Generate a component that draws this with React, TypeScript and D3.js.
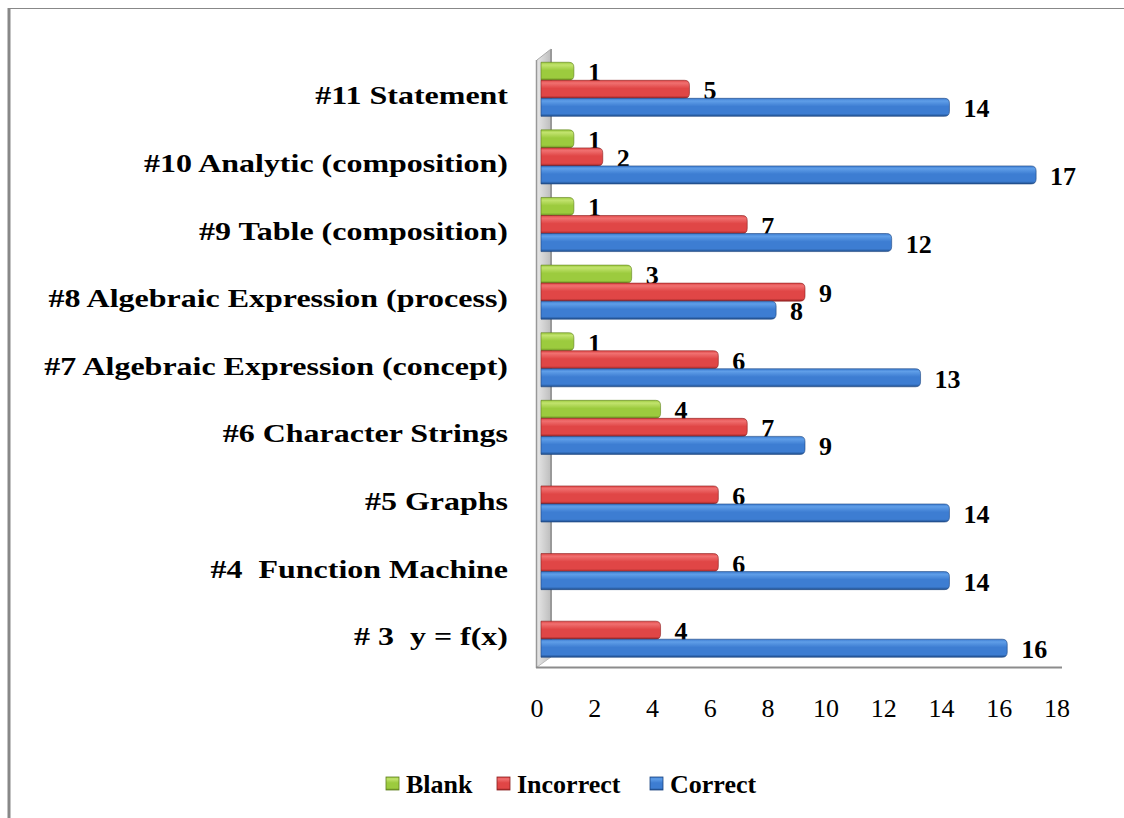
import React from "react";
import * as d3 from "d3";

const categories = [
  "#11 Statement",
  "#10 Analytic (composition)",
  "#9 Table (composition)",
  "#8 Algebraic Expression (process)",
  "#7 Algebraic Expression (concept)",
  "#6 Character Strings",
  "#5 Graphs",
  "#4  Function Machine",
  "# 3  y = f(x)",
];
const blank = [1, 1, 1, 3, 1, 4, 0, 0, 0];
const incorrect = [5, 2, 7, 9, 6, 7, 6, 6, 4];
const correct = [14, 17, 12, 8, 13, 9, 14, 14, 16];
const ticks = [0, 2, 4, 6, 8, 10, 12, 14, 16, 18];
const seriesNames = ["Blank", "Incorrect", "Correct"];

const W = 1124;
const H = 818;
const FONT = "'Liberation Serif', 'Times New Roman', serif";

const colors: Record<string, { top: string; mid: string; bot: string; edge: string }> = {
  Blank: { top: "#c2e36e", mid: "#9ccb3e", bot: "#6a8f22", edge: "#5f7f1e" },
  Incorrect: { top: "#f07070", mid: "#e04646", bot: "#9c2424", edge: "#8a2020" },
  Correct: { top: "#5f9ee8", mid: "#3d7dd2", bot: "#1f4e8c", edge: "#1c4580" },
};

export default function App() {
  const xBack = d3.scaleLinear().domain([0, 18]).range([537, 1057]);
  const frontOffset = 8;
  const xf = (v: number) => xBack(v) + frontOffset;
  const barStart = 541;

  const y = d3.scaleBand<string>().domain(categories).range([55.5, 664]).paddingInner(0.2).paddingOuter(0.1);
  const inner = d3.scaleBand<string>().domain(seriesNames).range([0, y.bandwidth()]);

  const seriesData: Record<string, number[]> = {
    Blank: blank,
    Incorrect: incorrect,
    Correct: correct,
  };

  const barPath = (x0: number, x1: number, yt: number, h: number) => {
    const r = Math.min(5, (x1 - x0) / 2);
    return `M${x0},${yt} H${x1 - r} Q${x1},${yt} ${x1},${yt + r} V${yt + h - r} Q${x1},${yt + h} ${x1 - r},${yt + h} H${x0} Z`;
  };

  return (
    <svg width={W} height={H} style={{ position: "absolute", left: 0, top: 0, background: "#fff" }} fontFamily={FONT}>
      <defs>
        {seriesNames.map((s) => (
          <linearGradient key={s} id={`g-${s}`} x1="0" y1="0" x2="0" y2="1">
            <stop offset="0" stopColor={colors[s].mid} />
            <stop offset="0.15" stopColor={colors[s].top} />
            <stop offset="0.45" stopColor={colors[s].mid} />
            <stop offset="0.85" stopColor={colors[s].mid} />
            <stop offset="1" stopColor={colors[s].bot} />
          </linearGradient>
        ))}
        <linearGradient id="wall" x1="0" y1="0" x2="1" y2="0">
          <stop offset="0" stopColor="#e6e6e6" />
          <stop offset="1" stopColor="#bdbdbd" />
        </linearGradient>
      </defs>

      {/* outer frame */}
      <line x1={9} y1={8} x2={9} y2={H} stroke="#888" strokeWidth={3} />
      <line x1={8} y1={8.5} x2={W} y2={8.5} stroke="#888" strokeWidth={1} />

      {/* 3D wall */}
      <polygon points="537,60 551,49 551,657 537,667" fill="url(#wall)" />
      <line x1={551} y1={49} x2={551} y2={657} stroke="#999" strokeWidth={2} />
      <line x1={536.5} y1={60} x2={536.5} y2={668} stroke="#999" strokeWidth={1.5} />
      <line x1={537} y1={60} x2={551} y2={49} stroke="#aaa" strokeWidth={1} />
      <line x1={537} y1={667} x2={551} y2={657} stroke="#bbb" strokeWidth={1} />
      <line x1={536} y1={667.5} x2={1062} y2={667.5} stroke="#8c8c8c" strokeWidth={2} />

      {/* bars */}
      {categories.map((c, i) => (
        <g key={c}>
          {seriesNames.map((s) => {
            const v = seriesData[s][i];
            if (!v) return null;
            const yt = (y(c) as number) + (inner(s) as number);
            const h = inner.bandwidth();
            return (
              <g key={s}>
                <path d={barPath(barStart, xf(v), yt, h)} fill={`url(#g-${s})`} stroke={colors[s].edge} strokeWidth={0.6} />
                <text x={xf(v) + 14} y={yt + h / 2 + 10} fontSize={26} fontWeight="bold" fill="#000">
                  {v}
                </text>
              </g>
            );
          })}
          <text
            transform={`translate(508, ${(y(c) as number) + y.bandwidth() / 2 + 15}) scale(1.23, 1)`}
            textAnchor="end"
            fontSize={26}
            fontWeight="bold"
            fill="#000"
            style={{ whiteSpace: "pre" }}
          >
            {c}
          </text>
        </g>
      ))}

      {/* x tick labels */}
      {ticks.map((t) => (
        <text key={t} x={xBack(t)} y={717} textAnchor="middle" fontSize={26} fill="#000">
          {t}
        </text>
      ))}

      {/* legend */}
      {[
        { s: "Blank", mx: 386, tx: 406 },
        { s: "Incorrect", mx: 497, tx: 517 },
        { s: "Correct", mx: 650, tx: 670 },
      ].map((l) => (
        <g key={l.s}>
          <rect x={l.mx} y={777} width={13} height={13} fill={`url(#g-${l.s})`} stroke={colors[l.s].edge} strokeWidth={0.8} />
          <text x={l.tx} y={793} fontSize={26} fontWeight="bold" fill="#000">
            {l.s}
          </text>
        </g>
      ))}
    </svg>
  );
}
